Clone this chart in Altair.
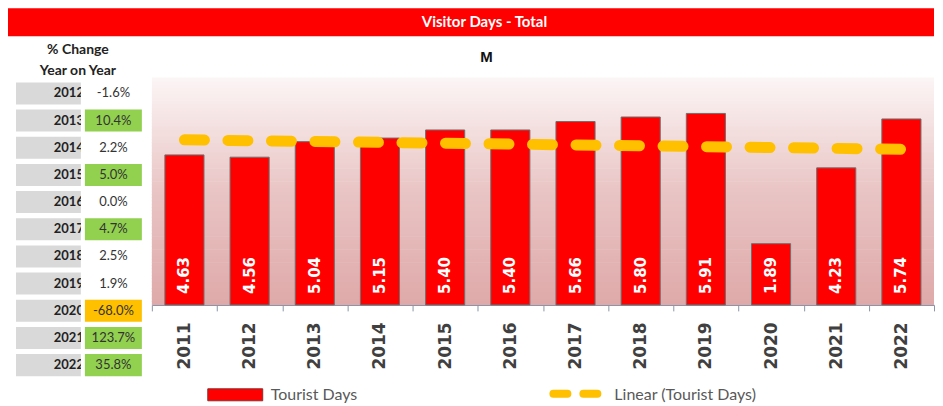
import altair as alt
import pandas as pd

# ---- data ----
years = [2011, 2012, 2013, 2014, 2015, 2016, 2017, 2018, 2019, 2020, 2021, 2022]
tourist_days = [4.63, 4.56, 5.04, 5.15, 5.40, 5.40, 5.66, 5.80, 5.91, 1.89, 4.23, 5.74]
change_years = [2012, 2013, 2014, 2015, 2016, 2017, 2018, 2019, 2020, 2021, 2022]
pct_change = [-1.6, 10.4, 2.2, 5.0, 0.0, 4.7, 2.5, 1.9, -68.0, 123.7, 35.8]

W, H = 783, 227

bars_df = pd.DataFrame({"Year": years, "Tourist Days": tourist_days})
table_df = pd.DataFrame({"Year": change_years, "Change": pct_change})
table_df["label"] = [f"{v:.1f}%" for v in pct_change]
table_df["yearLabel"] = [str(y) for y in change_years]
one = pd.DataFrame({"a": [0]})
# background shading strips (decoration only)
bg_df = pd.DataFrame({"lo": [i / 10 for i in range(70)]})

X = alt.X(
    "Year:O",
    scale=alt.Scale(domain=years, paddingInner=0, paddingOuter=0),
    axis=alt.Axis(
        title=None, labelAngle=270, labelAlign="right", labelBaseline="middle",
        labelFont="DejaVu Sans", labelFontWeight="bold", labelFontSize=17,
        labelColor="#404040", labelPadding=11, tickBand="extent", tickSize=6,
        tickColor="#8a96a8", domainColor="#8a96a8", domainWidth=1.2,
    ),
)
YSCALE = alt.Scale(domain=[0, 7], nice=False)
Y = alt.Y("Tourist Days:Q", scale=YSCALE, axis=None)

# plot background gradient made of thin strips
bg = alt.Chart(bg_df).transform_calculate(hi="datum.lo + 0.12").mark_rect(
    strokeWidth=0
).encode(
    x=alt.value(0), x2=alt.value(W),
    y=alt.Y("lo:Q", scale=YSCALE, axis=None), y2="hi:Q",
    fill=alt.Fill("lo:Q", scale=alt.Scale(domain=[0, 3.5, 7],
                  range=["#dfa9a9", "#e9c5c5", "#fcf6f6"]), legend=None),
)

# title bar
title_bar = alt.Chart(one).mark_rect(fill="#ff0000").encode(
    x=alt.value(-144), x2=alt.value(W), y=alt.value(-70), y2=alt.value(-42)
)
title_txt = alt.Chart(one).mark_text(
    text="Visitor Days - Total", font="Lato", fontWeight="bold", fontSize=15,
    color="white", align="center", baseline="middle",
).encode(x=alt.value(333), y=alt.value(-56))
sub_txt = alt.Chart(one).mark_text(
    text="M", font="Liberation Sans", fontWeight="bold", fontSize=15,
    color="#111111", align="center", baseline="middle",
).encode(x=alt.value(335), y=alt.value(-21))

# table header
hdr1 = alt.Chart(one).mark_text(
    text="% Change", font="Lato", fontWeight="bold", fontSize=14,
    color="#222222", align="center", baseline="middle",
).encode(x=alt.value(-74), y=alt.value(-28))
hdr2 = alt.Chart(one).mark_text(
    text="Year on Year", font="Lato", fontWeight="bold", fontSize=14,
    color="#222222", align="center", baseline="middle",
).encode(x=alt.value(-74), y=alt.value(-7))

# table (own band scale for rows)
TY = alt.Y(
    "yearLabel:O",
    scale=alt.Scale(domain=[str(y) for y in change_years], range=[1.7, 300.9],
                    paddingInner=0.19, paddingOuter=0.095),
    axis=None,
)
tbase = alt.Chart(table_df)
year_cells = tbase.mark_rect(fill="#d9d9d9").encode(
    x=alt.value(-136), x2=alt.value(-71), y=TY
)
year_txt = tbase.mark_text(
    font="Lato", fontWeight="bold", fontSize=13, color="#222222",
    align="right", baseline="middle",
).encode(x=alt.value(-68), y=TY, text="yearLabel:N")
gap = alt.Chart(one).mark_rect(fill="white").encode(
    x=alt.value(-71), x2=alt.value(-67), y=alt.value(0), y2=alt.value(305)
)
cell_fill = (
    alt.when(alt.datum.Change >= 3).then(alt.value("#92d050"))
    .when(alt.datum.Change <= -10).then(alt.value("#ffc000"))
    .otherwise(alt.value("#ffffff"))
)
val_cells = tbase.mark_rect().encode(
    x=alt.value(-67), x2=alt.value(-10), y=TY, fill=cell_fill
)
val_txt = tbase.mark_text(
    font="Lato", fontSize=13, color="#333333", align="center", baseline="middle",
).encode(x=alt.value(-38.5), y=TY, text="label:N")
table = alt.layer(year_cells, year_txt, gap, val_cells, val_txt)

# bars
bars = alt.Chart(bars_df).mark_bar(
    fill="#ff0000", stroke="#6f6f6f", strokeWidth=1, width=alt.RelativeBandSize(0.6)
).encode(x=X, y=Y)
bar_lbl = alt.Chart(bars_df).mark_text(
    font="DejaVu Sans", fontWeight="bold", fontSize=15, color="white",
    angle=270, align="left", baseline="middle", dx=11,
).encode(x=X, y=alt.value(H), text=alt.Text("Tourist Days:Q", format=".2f"))

trend = alt.Chart(bars_df).transform_regression("Year", "Tourist Days").mark_line(
    color="#ffc000", strokeWidth=11, strokeDash=[20, 23.56], strokeCap="round"
).encode(x=X, y=Y)

# legend
leg_rect = alt.Chart(one).mark_rect(fill="#ff0000", stroke="#8c2b2b", strokeWidth=1).encode(
    x=alt.value(56), x2=alt.value(111), y=alt.value(311), y2=alt.value(323)
)
leg_txt1 = alt.Chart(one).mark_text(
    text="Tourist Days", font="Lato", fontSize=16, color="#595959",
    align="left", baseline="middle",
).encode(x=alt.value(119), y=alt.value(317))
leg_line = alt.Chart(one).mark_rule(
    color="#ffc000", strokeWidth=8, strokeDash=[14, 16], strokeCap="round"
).encode(x=alt.value(402), x2=alt.value(446), y=alt.value(316))
leg_txt2 = alt.Chart(one).mark_text(
    text="Linear (Tourist Days)", font="Lato", fontSize=16, color="#595959",
    align="left", baseline="middle",
).encode(x=alt.value(463), y=alt.value(317))

main = alt.layer(
    bg, title_bar, title_txt, sub_txt, hdr1, hdr2,
    bars, bar_lbl, trend,
    leg_rect, leg_txt1, leg_line, leg_txt2,
)

chart = alt.layer(main, table).resolve_scale(y="independent").properties(
    width=W, height=H, padding=0, background="white"
).configure_view(stroke=None)

chart.save("out.html", embed_options={"renderer": "svg", "actions": False})
